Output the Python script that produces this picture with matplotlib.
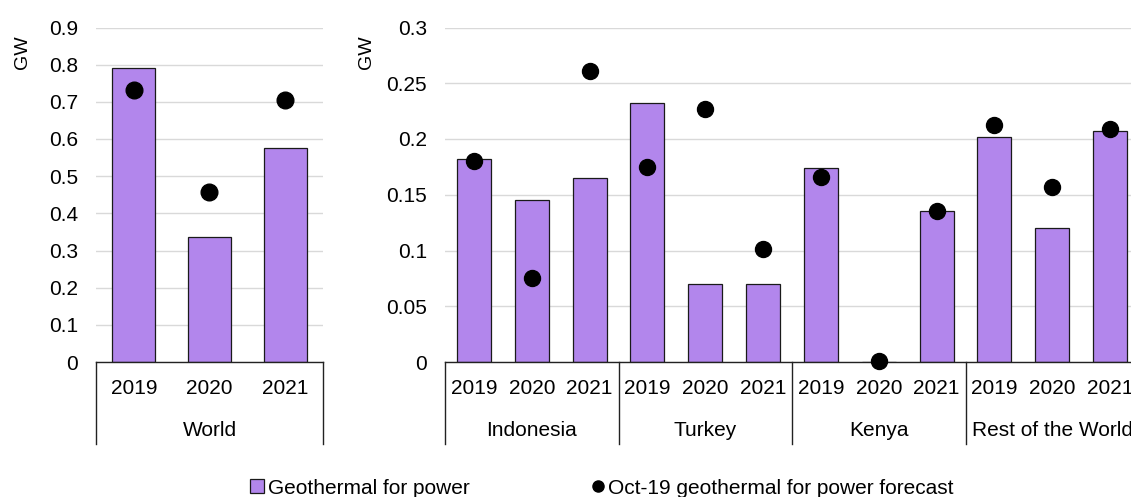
import matplotlib
matplotlib.use("Agg")
import matplotlib.pyplot as plt
from matplotlib.lines import Line2D
from matplotlib.patches import Patch

plt.rcParams['font.family'] = ['Liberation Sans', 'DejaVu Sans']

years = ["2019", "2020", "2021"]
world_group = ["World"]
world_bars = [0.792, 0.336, 0.576]
world_dots = [0.732, 0.458, 0.705]

groups = ["Indonesia", "Turkey", "Kenya", "Rest of the World"]
group_bars = [0.182, 0.145, 0.165,
              0.232, 0.070, 0.070,
              0.174, 0.0, 0.135,
              0.202, 0.120, 0.2075]
group_dots = [0.180, 0.075, 0.261,
              0.175, 0.2266, 0.101,
              0.166, 0.001, 0.1356,
              0.2126, 0.157, 0.209]

left_ticks = [0, 0.1, 0.2, 0.3, 0.4, 0.5, 0.6, 0.7, 0.8, 0.9]
left_ticklabels = ["0", "0.1", "0.2", "0.3", "0.4", "0.5", "0.6", "0.7", "0.8", "0.9"]
right_ticks = [0, 0.05, 0.1, 0.15, 0.2, 0.25, 0.3]
right_ticklabels = ["0", "0.05", "0.1", "0.15", "0.2", "0.25", "0.3"]

BAR_COLOR = "#B286EC"
FS = 15

fig = plt.figure(figsize=(11.31, 4.97), dpi=100)
axL = fig.add_axes([96/1131, 1-362/497, 227/1131, 334.5/497])
axR = fig.add_axes([445/1131, 1-362/497, 694/1131, 334.5/497])


def style(ax, ylim, ticks, labels):
    ax.set_ylim(*ylim)
    ax.set_yticks(ticks)
    ax.set_yticklabels(labels, fontsize=FS)
    ax.tick_params(axis='y', length=0, pad=13)
    ax.tick_params(axis='x', length=0)
    ax.set_xticks([])
    for s in ["top", "right", "left"]:
        ax.spines[s].set_visible(False)
    ax.spines["bottom"].set_color("#222222")
    ax.spines["bottom"].set_linewidth(1.0)
    ax.grid(axis='y', color="#d9d9d9", linewidth=1.0)
    ax.set_axisbelow(True)


def draw(ax, bars, dots, group_names, bw, ms):
    n = len(bars)
    xs = list(range(n))
    ax.bar(xs, bars, width=bw, color=BAR_COLOR, edgecolor="#1a1a1a", linewidth=0.9, zorder=2)
    ax.plot(xs, dots, linestyle="none", marker="o", color="black", markersize=ms, zorder=3,
            clip_on=False)
    ax.set_xlim(-0.5, n - 0.5)
    tr = ax.get_xaxis_transform()
    for i in xs:
        ax.text(i, -0.078, years[i % 3], transform=tr, ha="center", va="center", fontsize=FS)
    ng = len(group_names)
    for g in range(ng):
        ax.text(3 * g + 1, -0.204, group_names[g], transform=tr, ha="center", va="center", fontsize=FS)
    for b in range(ng + 1):
        x = 3 * b - 0.5
        ax.add_line(Line2D([x, x], [0, -0.245], transform=tr, color="#222222", linewidth=1.0,
                           clip_on=False))


style(axL, (0, 0.9), left_ticks, left_ticklabels)
style(axR, (0, 0.3), right_ticks, right_ticklabels)
fig.text(22/1131, 1-52/497, "GW", rotation=90, ha="center", va="center", fontsize=14)
fig.text(367/1131, 1-52/497, "GW", rotation=90, ha="center", va="center", fontsize=14)

draw(axL, world_bars, world_dots, world_group, 0.57, 12)
draw(axR, group_bars, group_dots, groups, 0.59, 11.5)

h1 = Patch(facecolor=BAR_COLOR, edgecolor="#1a1a1a", linewidth=0.9)
h2 = Line2D([], [], linestyle="none", marker="o", color="black", markersize=8)
fig.legend([h1], ["Geothermal for power"], loc="center left", bbox_to_anchor=(244/1131, 1-488/497),
           frameon=False, fontsize=FS, handlelength=0.65, handleheight=0.65, handletextpad=0.2,
           borderaxespad=0, borderpad=0.3)
fig.legend([h2], ["Oct-19 geothermal for power forecast"], loc="center left",
           bbox_to_anchor=(584/1131, 1-488/497),
           frameon=False, fontsize=FS, handlelength=0.7, handletextpad=0.15,
           borderaxespad=0, borderpad=0.3)

fig.savefig("out.png", dpi=100)
